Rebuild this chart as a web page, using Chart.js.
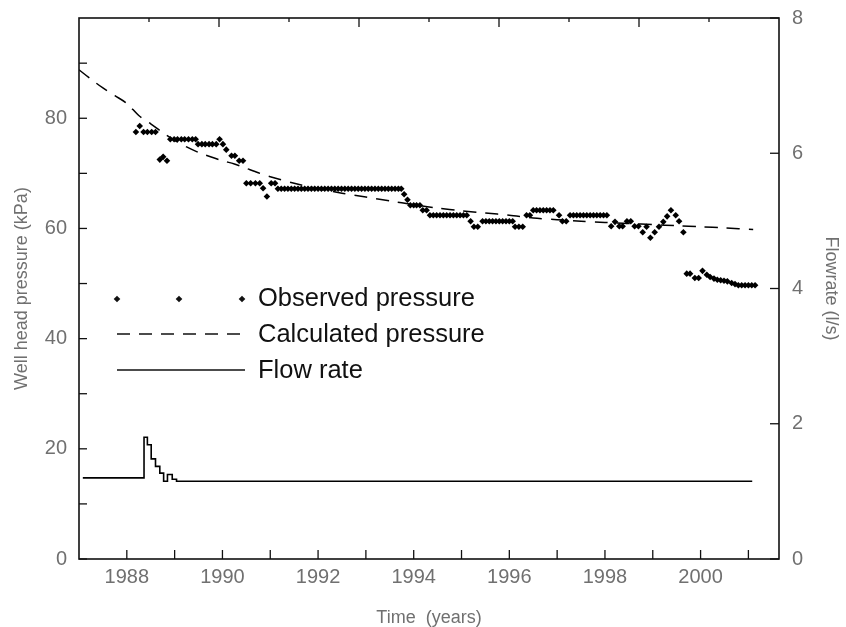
<!DOCTYPE html>
<html>
<head>
<meta charset="utf-8">
<script src="https://cdn.jsdelivr.net/npm/chart.js@4"></script>
<style>
  html, body { margin: 0; padding: 0; background: #fff; }
  canvas { display: block; }
</style>
</head>
<body>
<canvas id="c" width="846" height="627"></canvas>
<script>
// ---------- data ----------
const obsYears = [
  1988.19, 1988.27, 1988.35, 1988.43, 1988.52, 1988.60,
  1988.69, 1988.76, 1988.84,
  1988.91, 1988.99, 1989.06, 1989.14, 1989.21, 1989.29, 1989.37, 1989.44,
  1989.49, 1989.57, 1989.64, 1989.72, 1989.79, 1989.87,
  1989.94, 1990.01, 1990.08, 1990.19, 1990.26, 1990.35, 1990.43,
  1990.50, 1990.59, 1990.69, 1990.78, 1990.85, 1990.93, 1991.02, 1991.10,
  1991.16, 1991.23, 1991.30, 1991.37, 1991.44, 1991.51, 1991.58, 1991.65, 1991.72, 1991.79,
  1991.86, 1991.93, 1992.00, 1992.07, 1992.14, 1992.21, 1992.28, 1992.35, 1992.42, 1992.49,
  1992.56, 1992.63, 1992.70, 1992.77, 1992.84, 1992.91, 1992.98, 1993.05, 1993.12, 1993.19,
  1993.26, 1993.33, 1993.40, 1993.47, 1993.54, 1993.61, 1993.68, 1993.74,
  1993.80, 1993.87, 1993.93, 1994.00, 1994.06, 1994.13, 1994.19, 1994.27,
  1994.34, 1994.41, 1994.48, 1994.55, 1994.62, 1994.69, 1994.76, 1994.83, 1994.90, 1994.97, 1995.04, 1995.11,
  1995.19, 1995.26, 1995.34,
  1995.44, 1995.51, 1995.58, 1995.65, 1995.72, 1995.79, 1995.86, 1995.93, 1996.00, 1996.07,
  1996.12, 1996.20, 1996.28, 1996.36, 1996.43,
  1996.50, 1996.57, 1996.64, 1996.71, 1996.78, 1996.85, 1996.92,
  1997.04, 1997.11, 1997.19,
  1997.27, 1997.34, 1997.41, 1997.48, 1997.55, 1997.62, 1997.69, 1997.76, 1997.83, 1997.90, 1997.97, 1998.04,
  1998.13, 1998.21, 1998.30, 1998.37, 1998.46, 1998.54, 1998.62, 1998.70,
  1998.79, 1998.87, 1998.95, 1999.04, 1999.13, 1999.22, 1999.30, 1999.38, 1999.48, 1999.55, 1999.64,
  1999.71, 1999.78, 1999.88, 1999.96, 2000.04, 2000.13, 2000.20, 2000.28, 2000.35, 2000.42,
  2000.49, 2000.56, 2000.65, 2000.72, 2000.79, 2000.86, 2000.93, 2001.00, 2001.07, 2001.14
];
const obsPressure = [
  77.5, 78.6, 77.5, 77.5, 77.5, 77.5,
  72.5, 73.0, 72.3,
  76.2, 76.2, 76.2, 76.2, 76.2, 76.2, 76.2, 76.2,
  75.3, 75.3, 75.3, 75.3, 75.3, 75.3,
  76.2, 75.3, 74.3, 73.2, 73.2, 72.3, 72.3,
  68.2, 68.2, 68.2, 68.2, 67.3, 65.8, 68.2, 68.2,
  67.2, 67.2, 67.2, 67.2, 67.2, 67.2, 67.2, 67.2, 67.2, 67.2,
  67.2, 67.2, 67.2, 67.2, 67.2, 67.2, 67.2, 67.2, 67.2, 67.2,
  67.2, 67.2, 67.2, 67.2, 67.2, 67.2, 67.2, 67.2, 67.2, 67.2,
  67.2, 67.2, 67.2, 67.2, 67.2, 67.2, 67.2, 67.2,
  66.2, 65.2, 64.2, 64.2, 64.2, 64.2, 63.3, 63.3,
  62.4, 62.4, 62.4, 62.4, 62.4, 62.4, 62.4, 62.4, 62.4, 62.4, 62.4, 62.4,
  61.3, 60.3, 60.3,
  61.3, 61.3, 61.3, 61.3, 61.3, 61.3, 61.3, 61.3, 61.3, 61.3,
  60.3, 60.3, 60.3, 62.4, 62.4,
  63.3, 63.3, 63.3, 63.3, 63.3, 63.3, 63.3,
  62.4, 61.3, 61.3,
  62.4, 62.4, 62.4, 62.4, 62.4, 62.4, 62.4, 62.4, 62.4, 62.4, 62.4, 62.4,
  60.4, 61.2, 60.4, 60.4, 61.3, 61.3, 60.4, 60.4,
  59.3, 60.3, 58.3, 59.3, 60.3, 61.2, 62.2, 63.3, 62.4, 61.3, 59.3,
  51.8, 51.8, 51.0, 51.0, 52.3, 51.6, 51.2, 50.9, 50.7, 50.6,
  50.5, 50.4, 50.1, 49.9, 49.7, 49.7, 49.7, 49.7, 49.7, 49.7
];
const calcYears = [
  1987.0, 1987.25, 1987.5, 1987.75, 1988.0, 1988.25, 1988.5, 1988.75,
  1989.0, 1989.25, 1989.5, 1989.75, 1990.0, 1990.25, 1990.5, 1990.75,
  1991.0, 1991.5, 1992.0, 1992.5, 1993.0, 1993.5, 1994.0, 1994.5,
  1995.0, 1995.5, 1996.0, 1996.5, 1997.0, 1997.5, 1998.0, 1998.5,
  1999.0, 1999.5, 2000.0, 2000.5, 2001.1
];
const calcPressure = [
  88.8, 87.1, 85.5, 84.1, 82.7, 80.5, 79.0, 77.4,
  76.0, 74.8, 73.8, 73.0, 72.3, 71.7, 70.9, 70.1,
  69.4, 68.2, 67.2, 66.4, 65.7, 65.0, 64.3, 63.7,
  63.2, 62.8, 62.4, 61.9, 61.6, 61.3, 61.1, 60.9,
  60.7, 60.5, 60.3, 60.1, 59.8
];
const flowYears = [1987.08, 1988.36, 1988.43, 1988.51, 1988.60, 1988.69, 1988.77, 1988.85, 1988.95, 1989.04, 2001.08];
const flowRates = [1.2, 1.8, 1.69, 1.48, 1.37, 1.27, 1.15, 1.25, 1.18, 1.15, 1.15];

const yearTicks = [1988, 1989, 1990, 1991, 1992, 1993, 1994, 1995, 1996, 1997, 1998, 1999, 2000, 2001];
const yearLabels = [1988, 1990, 1992, 1994, 1996, 1998, 2000];
const pressureTicks = [0, 10, 20, 30, 40, 50, 60, 70, 80, 90];
const pressureLabels = [0, 20, 40, 60, 80];
const flowTicks = [0, 2, 4, 6, 8];
const topTicks = [1, 2, 3, 4, 5, 6, 7, 8, 9];

const legendItems = ['Observed pressure', 'Calculated pressure', 'Flow rate'];

// ---------- helpers ----------
const pairs = (xs, ys) => xs.map((x, i) => ({ x: x, y: ys[i] }));
const tickFont = { family: '"Liberation Sans", Arial, sans-serif', size: 20 };
const titleFont = { family: '"Liberation Sans", Arial, sans-serif', size: 18, lineHeight: 1 };
const grey = '#707070';

const framePlugin = {
  id: 'frame',
  afterDraw(chart) {
    const { ctx, chartArea: a, scales } = chart;
    ctx.save();
    ctx.strokeStyle = '#111';
    ctx.lineCap = 'butt';
    const seg = (x1, y1, x2, y2) => { ctx.beginPath(); ctx.moveTo(x1, y1); ctx.lineTo(x2, y2); ctx.stroke(); };
    ctx.lineWidth = 1.3;
    scales.x.ticks.forEach(t => { const p = scales.x.getPixelForValue(t.value); seg(p, a.bottom, p, a.bottom - 9); });
    scales.x2.ticks.forEach(t => { const p = scales.x2.getPixelForValue(t.value); seg(p, a.top, p, a.top + (t.value % 2 === 0 ? 9 : 4)); });
    scales.y.ticks.forEach(t => { const p = scales.y.getPixelForValue(t.value); seg(a.left, p, a.left + 8, p); });
    scales.y2.ticks.forEach(t => { const p = scales.y2.getPixelForValue(t.value); seg(a.right, p, a.right - 9, p); });
    ctx.lineWidth = 1.6;
    ctx.strokeRect(a.left, a.top, a.right - a.left, a.bottom - a.top);
    ctx.restore();
  }
};

const legendPlugin = {
  id: 'insideLegend',
  afterDraw(chart) {
    const { ctx } = chart;
    ctx.save();
    ctx.fillStyle = '#111';
    ctx.strokeStyle = '#111';
    [117, 179, 242].forEach(x => {
      ctx.beginPath();
      ctx.moveTo(x - 3.3, 299); ctx.lineTo(x, 295.7); ctx.lineTo(x + 3.3, 299); ctx.lineTo(x, 302.3);
      ctx.closePath(); ctx.fill();
    });
    ctx.lineWidth = 1.5;
    ctx.setLineDash([13, 9]);
    ctx.beginPath(); ctx.moveTo(117, 334); ctx.lineTo(245, 334); ctx.stroke();
    ctx.setLineDash([]);
    ctx.beginPath(); ctx.moveTo(117, 370); ctx.lineTo(245, 370); ctx.stroke();
    ctx.font = '25.5px "Liberation Sans", Arial, sans-serif';
    ctx.textBaseline = 'middle';
    ctx.textAlign = 'left';
    ctx.fillText(legendItems[0], 258, 299);
    ctx.fillText(legendItems[1], 258, 335);
    ctx.fillText(legendItems[2], 258, 371);
    ctx.restore();
  }
};

new Chart(document.getElementById('c'), {
  type: 'scatter',
  data: {
    datasets: [
      {
        label: legendItems[0],
        data: pairs(obsYears, obsPressure),
        xAxisID: 'x', yAxisID: 'y',
        pointStyle: 'rectRot', pointRadius: 3.3,
        backgroundColor: '#000', borderColor: '#000', borderWidth: 0,
        showLine: false
      },
      {
        label: legendItems[1],
        type: 'line',
        data: pairs(calcYears, calcPressure),
        xAxisID: 'x', yAxisID: 'y',
        borderColor: '#000', borderWidth: 1.5, borderDash: [13, 9],
        pointRadius: 0, fill: false, tension: 0.3
      },
      {
        label: legendItems[2],
        type: 'line',
        data: pairs(flowYears, flowRates),
        xAxisID: 'x', yAxisID: 'y2',
        borderColor: '#000', borderWidth: 1.6, stepped: 'before',
        pointRadius: 0, fill: false
      }
    ]
  },
  options: {
    responsive: false,
    animation: false,
    layout: { padding: 0 },
    plugins: { legend: { display: false }, tooltip: { enabled: false } },
    scales: {
      x: {
        type: 'linear', position: 'bottom', min: 1987, max: 2001.64,
        afterFit(s) { s.height = 68; s.paddingLeft = 0; s.paddingRight = 0; },
        afterBuildTicks(s) { s.ticks = yearTicks.map(v => ({ value: v })); },
        grid: { display: false, drawTicks: false },
        border: { display: false },
        ticks: {
          autoSkip: false, maxRotation: 0, padding: 6, color: grey, font: tickFont,
          callback: v => yearLabels.includes(v) ? String(v) : ''
        },
        title: { display: true, text: 'Time  (years)', color: grey, font: titleFont, padding: { top: 0, bottom: 0 } }
      },
      x2: {
        type: 'linear', position: 'top', min: 0, max: 10,
        afterFit(s) { s.height = 18; s.paddingLeft = 0; s.paddingRight = 0; },
        afterBuildTicks(s) { s.ticks = topTicks.map(v => ({ value: v })); },
        grid: { display: false, drawTicks: false },
        border: { display: false },
        ticks: { display: false }
      },
      y: {
        type: 'linear', position: 'left', min: 0, max: 98.2,
        afterFit(s) { s.width = 79; s.paddingTop = 0; s.paddingBottom = 0; },
        afterBuildTicks(s) { s.ticks = pressureTicks.map(v => ({ value: v })); },
        grid: { display: false, drawTicks: false },
        border: { display: false },
        ticks: {
          autoSkip: false, padding: 12, color: grey, font: tickFont,
          callback: v => pressureLabels.includes(v) ? String(v) : ''
        },
        title: { display: true, text: 'Well head pressure (kPa)', color: grey, font: titleFont, padding: { top: 13, bottom: 0 } }
      },
      y2: {
        type: 'linear', position: 'right', min: 0, max: 8,
        afterFit(s) { s.width = 67; s.paddingTop = 0; s.paddingBottom = 0; },
        afterBuildTicks(s) { s.ticks = flowTicks.map(v => ({ value: v })); },
        grid: { display: false, drawTicks: false },
        border: { display: false },
        ticks: { autoSkip: false, padding: 13, color: grey, font: tickFont, callback: v => String(v) },
        title: { display: true, text: 'Flowrate (l/s)', color: grey, font: titleFont, padding: { top: 6, bottom: 0 } }
      }
    }
  },
  plugins: [framePlugin, legendPlugin]
});
</script>
</body>
</html>
